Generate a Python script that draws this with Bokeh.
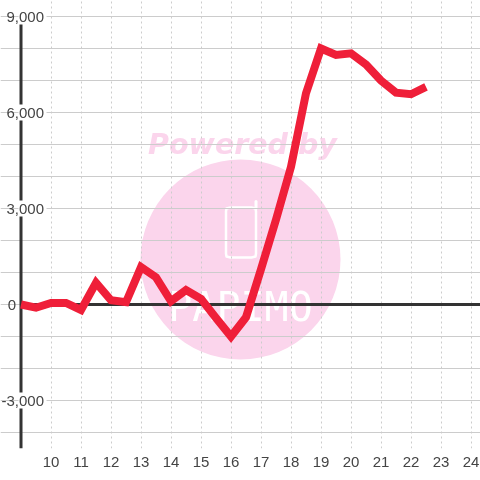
from bokeh.plotting import figure
from bokeh.embed import file_html
from bokeh.resources import INLINE
from bokeh.models import FixedTicker, NumeralTickFormatter, Range1d, LinearAxis
from bokeh.core.properties import value

hours = [9, 9.5, 10, 10.5, 11, 11.5, 12, 12.5, 13, 13.5, 14, 14.5, 15, 15.5, 16, 16.5,
         17, 17.5, 18, 18.5, 19, 19.5, 20, 20.5, 21, 21.5, 22, 22.5]
coins = [0, -100, 50, 50, -170, 680, 130, 70, 1170, 850, 100, 450, 180, -420, -1000, -400,
         1100, 2650, 4300, 6600, 8000, 7800, 7850, 7500, 7000, 6620, 6570, 6800]
x_ticks = list(range(10, 25))
y_ticks = [-3000, 3000, 6000, 9000]
zero_tick = [0]
y_minor = [-4000, -2000, -1000, 0, 1000, 2000, 4000, 5000, 7000, 8000]

PINK = "#fbd5ec"
DARK = "#333333"
GRID = "#cccccc"
X0, Y0, Y1 = 9 - 20.5 / 30, -4500, 9500
X1 = X0 + 16


def dx(px):
    return 9 + (px - 20.5) / 30


def dy(py):
    return (304 - py) * 1000 / 32


p = figure(width=480, height=480, output_backend="svg", toolbar_location=None,
           x_range=Range1d(X0, X1), y_range=Range1d(Y0, Y1),
           min_border_left=0, min_border_right=0, min_border_top=0, min_border_bottom=32,
           outline_line_color=None, background_fill_color="white", border_fill_color="white")
p.styles = {"position": "fixed", "left": "0px", "top": "0px"}

# Watermark, below the grid
p.scatter([dx(240)], [dy(259)], size=200, marker="circle", fill_color=PINK, line_color=None, level="image")
p.text([dx(242)], [dy(144)], text=["Powered by"], text_font=value("DejaVu Sans"), text_font_style="bold italic",
       text_font_size="28.5px", text_color=PINK, text_align="center", text_baseline="alphabetic", level="image")
p.line([dx(v) for v in (230, 226, 225.5, 225.5, 226, 230, 251, 255, 255.5, 255.5, 255, 251, 230)],
       [dy(v) for v in (207, 208, 211, 253, 256, 257, 257, 256, 253, 211, 208, 207, 207)],
       line_color="white", line_width=2.5, line_join="round", level="image")
p.line([dx(255.5), dx(255.5)], [dy(208), dy(201)], line_color="white", line_width=3, line_cap="round", level="image")
p.text([dx(240)], [dy(306)], text=["PAPIMO"], text_font=value("DejaVu Sans Mono"),
       text_font_size="40px", text_color="white", text_align="center", text_baseline="alphabetic", level="image")


def style(ax):
    ax.axis_line_color = None
    ax.major_tick_line_color = None
    ax.minor_tick_line_color = None
    ax.major_label_text_font = "Liberation Sans"
    ax.major_label_text_font_size = "15px"
    ax.major_label_text_color = "#444444"


# Axes and grid
p.xaxis[0].ticker = FixedTicker(ticks=x_ticks)
p.yaxis[0].ticker = FixedTicker(ticks=y_ticks, minor_ticks=y_minor)
style(p.xaxis[0])
style(p.yaxis[0])
p.yaxis[0].formatter = NumeralTickFormatter(format="0,0")
p.yaxis[0].fixed_location = 9
p.yaxis[0].major_label_standoff = -29
p.xaxis[0].major_label_standoff = 2

zero_axis = LinearAxis(ticker=FixedTicker(ticks=zero_tick), fixed_location=9, major_label_standoff=-1)
style(zero_axis)
p.add_layout(zero_axis, "left")

p.xgrid[0].ticker = FixedTicker(ticks=x_ticks)
p.xgrid[0].grid_line_color = GRID
p.xgrid[0].grid_line_dash = "2 3"
p.xgrid[0].grid_line_width = 1
p.ygrid[0].ticker = FixedTicker(ticks=y_ticks, minor_ticks=y_minor)
p.ygrid[0].grid_line_color = GRID
p.ygrid[0].grid_line_width = 1
p.ygrid[0].minor_grid_line_color = GRID
p.ygrid[0].minor_grid_line_width = 1

# White cover left of the axis line, above the top gridline and behind the tick labels
p.quad(left=[X0], right=[9], bottom=[Y0], top=[Y1], fill_color="white", line_color=None, level="underlay")
p.quad(left=[X0], right=[X1], bottom=[9000 + 16], top=[Y1], fill_color="white", line_color=None, level="underlay")
p.segment([9], [0], [X1], [0], line_color=DARK, line_width=3)
p.segment([9], [Y0], [9], [9000], line_color=DARK, line_width=3)
p.rect([dx(32)] * len(y_ticks), y_ticks, width=28, height=16,
       width_units="screen", height_units="screen", fill_color="white", line_color=None)

p.line(hours, coins, line_color="#ef1f39", line_width=8, line_join="miter")

open("out.html", "w").write(file_html(p, INLINE))
